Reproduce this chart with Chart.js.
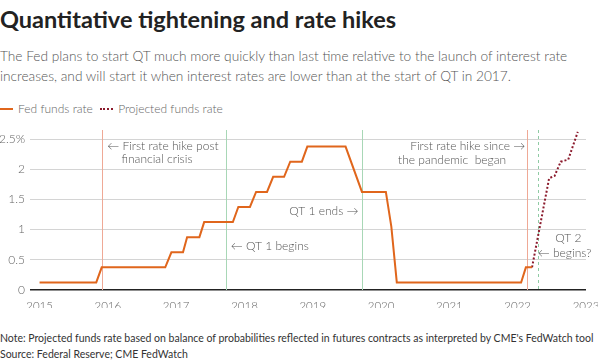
<!DOCTYPE html>
<html>
<head>
<meta charset="utf-8">
<script src="https://cdn.jsdelivr.net/npm/chart.js@4"></script>
<style>
  body { margin: 0; width: 598px; height: 362px; background: #fff; overflow: hidden; position: relative;
         font-family: Lato, "Liberation Sans", sans-serif; }
  #title { position: absolute; left: 0; top: 5px; font-size: 23.5px; font-weight: bold; color: #222; white-space: nowrap; }
  #sub { position: absolute; left: 0; top: 46px; font-size: 13.7px; line-height: 19.5px; color: #555; font-weight: 300; white-space: nowrap; }
  #legend { position: absolute; left: 0; top: 101px; font-size: 12px; color: #666; font-weight: 300; white-space: nowrap; }
  #legend .sw { display: inline-block; width: 13px; vertical-align: middle; margin-right: 5px; position: relative; top: -1px; }
  #legend .item { margin-right: 4px; }
  #note { position: absolute; left: 0; top: 330px; font-size: 10.5px; line-height: 16px; color: #333; white-space: nowrap; }
  #wrap { position: absolute; left: 0; top: 118px; width: 606px; height: 190px; }
</style>
</head>
<body>
<div id="title">Quantitative tightening and rate hikes</div>
<div id="sub">The Fed plans to start QT much more quickly than last time relative to the launch of interest rate<br>increases, and will start it when interest rates are lower than at the start of QT in 2017.</div>
<div id="legend">
  <span class="item"><span class="sw" style="border-top:2px solid #e0661c"></span>Fed funds rate</span>
  <span class="item"><span class="sw" style="border-top:2px dotted #8b1a2c"></span>Projected funds rate</span>
</div>
<div id="wrap"><canvas id="chart"></canvas></div>
<div id="note">Note: Projected funds rate based on balance of probabilities reflected in futures contracts as interpreted by CME's FedWatch tool<br>Source: Federal Reserve; CME FedWatch</div>
<script>
// fed funds rate (midpoint of target range), corners
const fedDates = [2015.0, 2015.83, 2015.91, 2016.84, 2016.93, 2017.10, 2017.16, 2017.34, 2017.41,
                  2017.83, 2017.91, 2018.08, 2018.17, 2018.33, 2018.42, 2018.58, 2018.67, 2018.84,
                  2018.92, 2019.48, 2019.72, 2020.07, 2020.15, 2020.23, 2022.05, 2022.12, 2022.21];
const fedRates = [0.125, 0.125, 0.375, 0.375, 0.625, 0.625, 0.875, 0.875, 1.125,
                  1.125, 1.375, 1.375, 1.625, 1.625, 1.875, 1.875, 2.125, 2.125,
                  2.375, 2.375, 1.625, 1.625, 1.05, 0.125, 0.125, 0.375, 0.375];
// projected path (CME FedWatch)
const projDates = [2022.21, 2022.46, 2022.54, 2022.63, 2022.74, 2022.88];
const projRates = [0.375, 1.85, 1.89, 2.125, 2.16, 2.62];
// events: first hike 2015, QT1 begins, QT1 ends, first hike 2022, QT2 begins
const eventDates = [2015.91, 2017.73, 2019.72, 2022.13, 2022.29];
const yearTicks = [2015, 2016, 2017, 2018, 2019, 2020, 2021, 2022, 2023];

const eventStyles = [
  { color: '#efa996', dash: [] },
  { color: '#a8d7b6', dash: [] },
  { color: '#a8d7b6', dash: [] },
  { color: '#efa996', dash: [] },
  { color: '#8fcba4', dash: [3, 3] }
];
const notes = [
  { x: 2015.99, y: 2.38, align: 'left', text: '\u2190 First rate hike post' },
  { x: 2016.20, y: 2.17, align: 'left', text: 'financial crisis' },
  { x: 2017.80, y: 0.73, align: 'left', text: '\u2190 QT 1 begins' },
  { x: 2019.67, y: 1.31, align: 'right', text: 'QT 1 ends \u2192' },
  { x: 2022.11, y: 2.39, align: 'right', text: 'First rate hike since \u2192' },
  { x: 2021.83, y: 2.15, align: 'right', text: 'the pandemic  began' },
  { x: 2022.55, y: 0.86, align: 'left', text: 'QT 2' },
  { x: 2023.08, y: 0.61, align: 'right', text: '\u2190 begins?' }
];

const eventLines = {
  id: 'eventLines',
  beforeDatasetsDraw(chart) {
    const { ctx, chartArea, scales: { x } } = chart;
    ctx.save();
    eventDates.forEach((d, i) => {
      const px = Math.round(x.getPixelForValue(d)) + 0.5;
      ctx.strokeStyle = eventStyles[i].color;
      ctx.lineWidth = 1;
      ctx.setLineDash(eventStyles[i].dash);
      ctx.beginPath();
      ctx.moveTo(px, chartArea.top);
      ctx.lineTo(px, chartArea.bottom);
      ctx.stroke();
    });
    ctx.restore();
  },
  afterDatasetsDraw(chart) {
    const { ctx, scales: { x, y } } = chart;
    ctx.save();
    ctx.font = '300 12px Lato, "Liberation Sans", sans-serif';
    ctx.fillStyle = '#555';
    ctx.textBaseline = 'middle';
    notes.forEach(n => {
      ctx.textAlign = n.align;
      ctx.fillText(n.text, x.getPixelForValue(n.x), y.getPixelForValue(n.y));
    });
    ctx.restore();
  }
};

const fedPoints = fedDates.map((d, i) => ({ x: d, y: fedRates[i] }));
const projPoints = projDates.map((d, i) => ({ x: d, y: projRates[i] }));
const tickFont = { family: 'Lato, "Liberation Sans", sans-serif', size: 12, weight: 300 };

new Chart(document.getElementById('chart'), {
  type: 'line',
  data: {
    datasets: [
      { label: 'Fed funds rate', data: fedPoints, borderColor: '#e0661c', borderWidth: 2,
        pointRadius: 0, tension: 0, borderJoinStyle: 'miter' },
      { label: 'Projected funds rate', data: projPoints, borderColor: '#8b1a2c', borderWidth: 2,
        borderDash: [2, 2], pointRadius: 0, tension: 0 }
    ]
  },
  options: {
    responsive: true,
    maintainAspectRatio: false,
    animation: false,
    layout: { padding: { top: 12, right: 20, left: 0, bottom: 0 } },
    plugins: { legend: { display: false }, tooltip: { enabled: false } },
    scales: {
      x: {
        type: 'linear',
        min: 2014.86,
        max: 2023.0,
        afterBuildTicks: s => { s.ticks = yearTicks.map(v => ({ value: v })); },
        afterFit: s => { s.height = 18; s.paddingLeft = 0; s.paddingRight = 0; },
        grid: { display: false },
        border: { display: false },
        ticks: { callback: v => String(v), color: '#666', font: { ...tickFont, size: 11.5 }, padding: 1, maxRotation: 0 }
      },
      y: {
        min: 0,
        max: 2.65,
        afterFit: s => { s.width = 30; s.paddingTop = 0; s.paddingBottom = 0; },
        grid: {
          drawTicks: false,
          color: c => c.tick.value === 0 ? '#222' : '#d4d4d4',
          lineWidth: c => c.tick.value === 0 ? 1.5 : 1
        },
        border: { display: false },
        ticks: {
          stepSize: 0.5,
          includeBounds: false,
          padding: 5,
          color: '#666',
          font: tickFont,
          callback: v => v === 2.5 ? '2.5%' : String(v)
        }
      }
    }
  },
  plugins: [eventLines]
});
</script>
</body>
</html>
